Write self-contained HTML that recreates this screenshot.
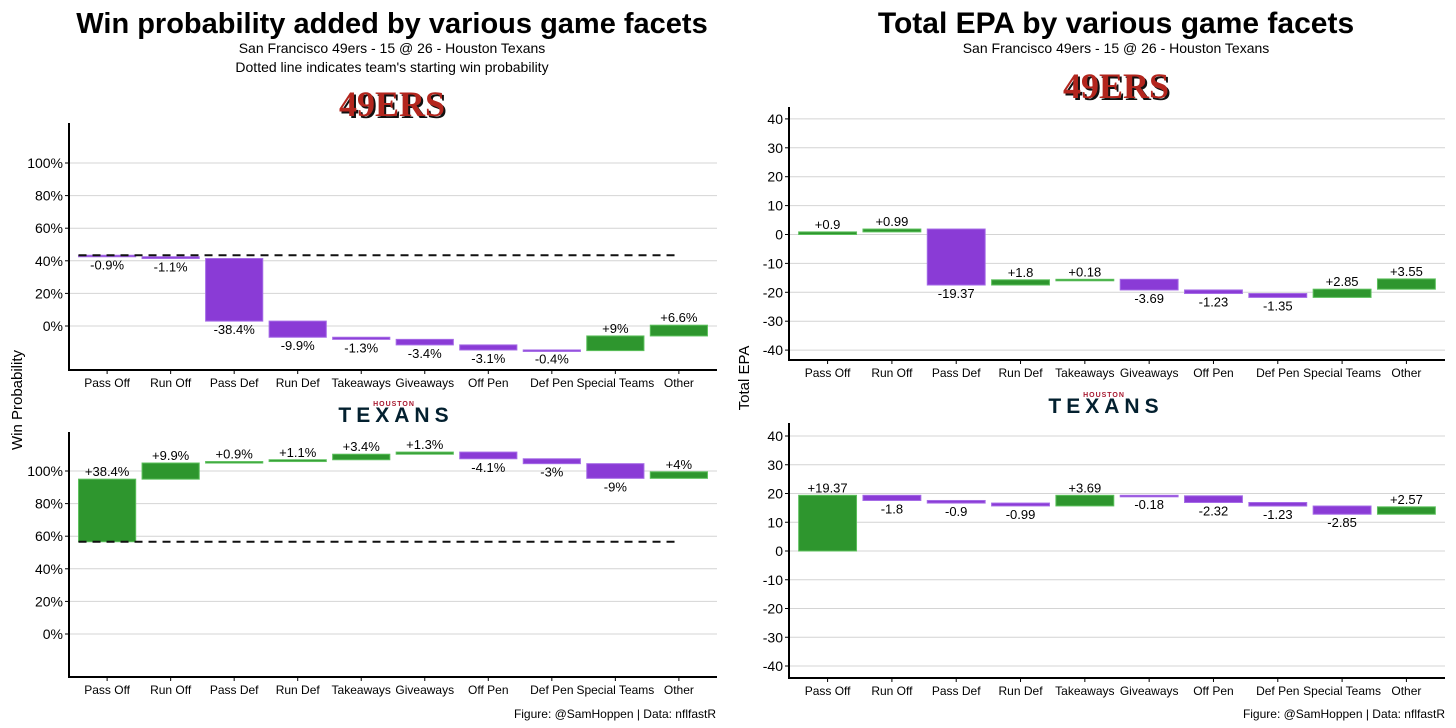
<!DOCTYPE html>
<html><head><meta charset="utf-8"><style>
body{margin:0;background:#fff;}
svg{display:block;font-family:"Liberation Sans Narrow","Liberation Sans",sans-serif;}
.t{font-family:"Liberation Sans",sans-serif;}
</style></head><body>
<svg id="c" width="1456" height="728" viewBox="0 0 1456 728">
<text class="t" x="392" y="33" text-anchor="middle" font-size="29" font-weight="bold">Win probability added by various game facets</text>
<text class="t" x="392" y="53" text-anchor="middle" font-size="14">San Francisco 49ers - 15 @ 26 - Houston Texans</text>
<text class="t" x="392" y="72" text-anchor="middle" font-size="14">Dotted line indicates team's starting win probability</text>
<text class="t" x="1116" y="33" text-anchor="middle" font-size="30" font-weight="bold">Total EPA by various game facets</text>
<text class="t" x="1116" y="53" text-anchor="middle" font-size="14">San Francisco 49ers - 15 @ 26 - Houston Texans</text>
<text class="t" x="22" y="400" transform="rotate(-90 22 400)" text-anchor="middle" font-size="15">Win Probability</text>
<text class="t" x="749" y="378" transform="rotate(-90 749 378)" text-anchor="middle" font-size="15">Total EPA</text>
<text x="716" y="718" text-anchor="end" font-size="12">Figure: @SamHoppen | Data: nflfastR</text>
<text x="1445" y="718" text-anchor="end" font-size="12">Figure: @SamHoppen | Data: nflfastR</text>
<g><text x="394" y="118" text-anchor="middle" font-family="Liberation Serif,serif" font-weight="bold" font-size="36" fill="#111">49ERS</text><text x="392" y="116" text-anchor="middle" font-family="Liberation Serif,serif" font-weight="bold" font-size="36" fill="#b3261e">49ERS</text></g>
<g><text x="1118" y="100" text-anchor="middle" font-family="Liberation Serif,serif" font-weight="bold" font-size="36" fill="#111">49ERS</text><text x="1116" y="98" text-anchor="middle" font-family="Liberation Serif,serif" font-weight="bold" font-size="36" fill="#b3261e">49ERS</text></g>
<g><text x="394" y="406" text-anchor="middle" font-family="Liberation Sans,sans-serif" font-weight="bold" font-size="7" fill="#a71930" letter-spacing="1">HOUSTON</text><text x="396" y="422" text-anchor="middle" font-family="Liberation Sans,sans-serif" font-weight="bold" font-size="21" fill="#03202f" letter-spacing="5">TEXANS</text></g>
<g><text x="1104" y="397" text-anchor="middle" font-family="Liberation Sans,sans-serif" font-weight="bold" font-size="7" fill="#a71930" letter-spacing="1">HOUSTON</text><text x="1106" y="413" text-anchor="middle" font-family="Liberation Sans,sans-serif" font-weight="bold" font-size="21" fill="#03202f" letter-spacing="5">TEXANS</text></g>
</svg>
<script>
const categories=["Pass Off","Run Off","Pass Def","Run Def","Takeaways","Giveaways","Off Pen","Def Pen","Special Teams","Other"];
const wp49=[-0.9,-1.1,-38.4,-9.9,-1.3,-3.4,-3.1,-0.4,9,6.6];
const wpHou=[38.4,9.9,0.9,1.1,3.4,1.3,-4.1,-3,-9,4];
const wpStart49=43.4;
const wpStartHou=56.6;
const epa49=[0.9,0.99,-19.37,1.8,0.18,-3.69,-1.23,-1.35,2.85,3.55];
const epaHou=[19.37,-1.8,-0.9,-0.99,3.69,-0.18,-2.32,-1.23,-2.85,2.57];
const wpTicks=[0,20,40,60,80,100];
const epaTicks=[-40,-30,-20,-10,0,10,20,30,40];
const NS="http://www.w3.org/2000/svg";
const svg=document.getElementById('c');
function mk(tag,attrs,parent){const e=document.createElementNS(NS,tag);for(const k in attrs)e.setAttribute(k,attrs[k]);(parent||svg).appendChild(e);return e;}
function panel(p){
  const g=mk('g',{});
  
  
  const y=v=>p.zeroY-(v-0)*p.ppu;
  const step=(p.x1-p.x0)/10.2;
  const x=i=>p.x0+step*(0.6+i);
  p.ticks.forEach(t=>{
    const gl=mk('line',{x1:p.x0,x2:p.x1,y1:y(t),y2:y(t),stroke:'#d4d4d4','stroke-width':1},g);
    
    
    mk('line',{x1:p.x0-4,x2:p.x0,y1:y(t),y2:y(t),stroke:'#000','stroke-width':1},g);
    const tl=mk('text',{x:p.x0-6,y:y(t)+5,'text-anchor':'end','font-size':14},g);
    tl.textContent=t+p.suffix;
    
    
  });
  let cum=p.start;
  const bw=step*0.9;
  p.vals.forEach((v,i)=>{
    const a=cum,b=cum+v;cum=b;
    const top=Math.max(a,b),bot=Math.min(a,b);
    const h=Math.max((top-bot)*p.ppu,1.5);
    const r=mk('rect',{x:x(i)-bw/2,y:y(top),width:bw,height:h,fill:v>=0?'#2e962e':'#8a3bd6',stroke:v>=0?'#5cc05c':'#a56be6','stroke-width':1},g);
    
    
    const lab=mk('text',{x:x(i),'text-anchor':'middle','font-size':13},g);
    if(v>=0){lab.setAttribute('y',y(top)-3);}else{lab.setAttribute('y',y(bot)+13);}
    lab.textContent=(v>=0?'+':'')+v+p.suffix;
    
    
  });
  if(p.dash){
    const d=mk('line',{x1:x(0)-bw/2,x2:x(9),y1:y(p.start),y2:y(p.start),stroke:'#111','stroke-width':2,'stroke-dasharray':'8,6'},g);
    
    
  }
  categories.forEach((c,i)=>{
    mk('line',{x1:x(i),x2:x(i),y1:p.yBot,y2:p.yBot+4,stroke:'#000'},g);
    const t=mk('text',{x:x(i),y:p.yBot+17,'text-anchor':'middle','font-size':12},g);
    t.textContent=c;
    
    
  });
  const ax=mk('path',{d:`M${p.x0},${p.yTop}V${p.yBot}H${p.x1}`,fill:'none',stroke:'#000','stroke-width':2},g);
  
  
}
panel({name:'wp-49ers-panel',x0:69,x1:717,zeroY:326,ppu:1.63,yTop:123,yBot:370,ticks:wpTicks,suffix:'%',vals:wp49,start:wpStart49,dash:true});
panel({name:'wp-texans-panel',x0:69,x1:717,zeroY:634,ppu:1.63,yTop:432,yBot:677,ticks:wpTicks,suffix:'%',vals:wpHou,start:wpStartHou,dash:true});
panel({name:'epa-49ers-panel',x0:789,x1:1445,zeroY:234.5,ppu:2.89,yTop:107,yBot:360,ticks:epaTicks,suffix:'',vals:epa49,start:0,dash:false});
panel({name:'epa-texans-panel',x0:789,x1:1445,zeroY:551,ppu:2.875,yTop:423,yBot:678,ticks:epaTicks,suffix:'',vals:epaHou,start:0,dash:false});
</script>
</body></html>
